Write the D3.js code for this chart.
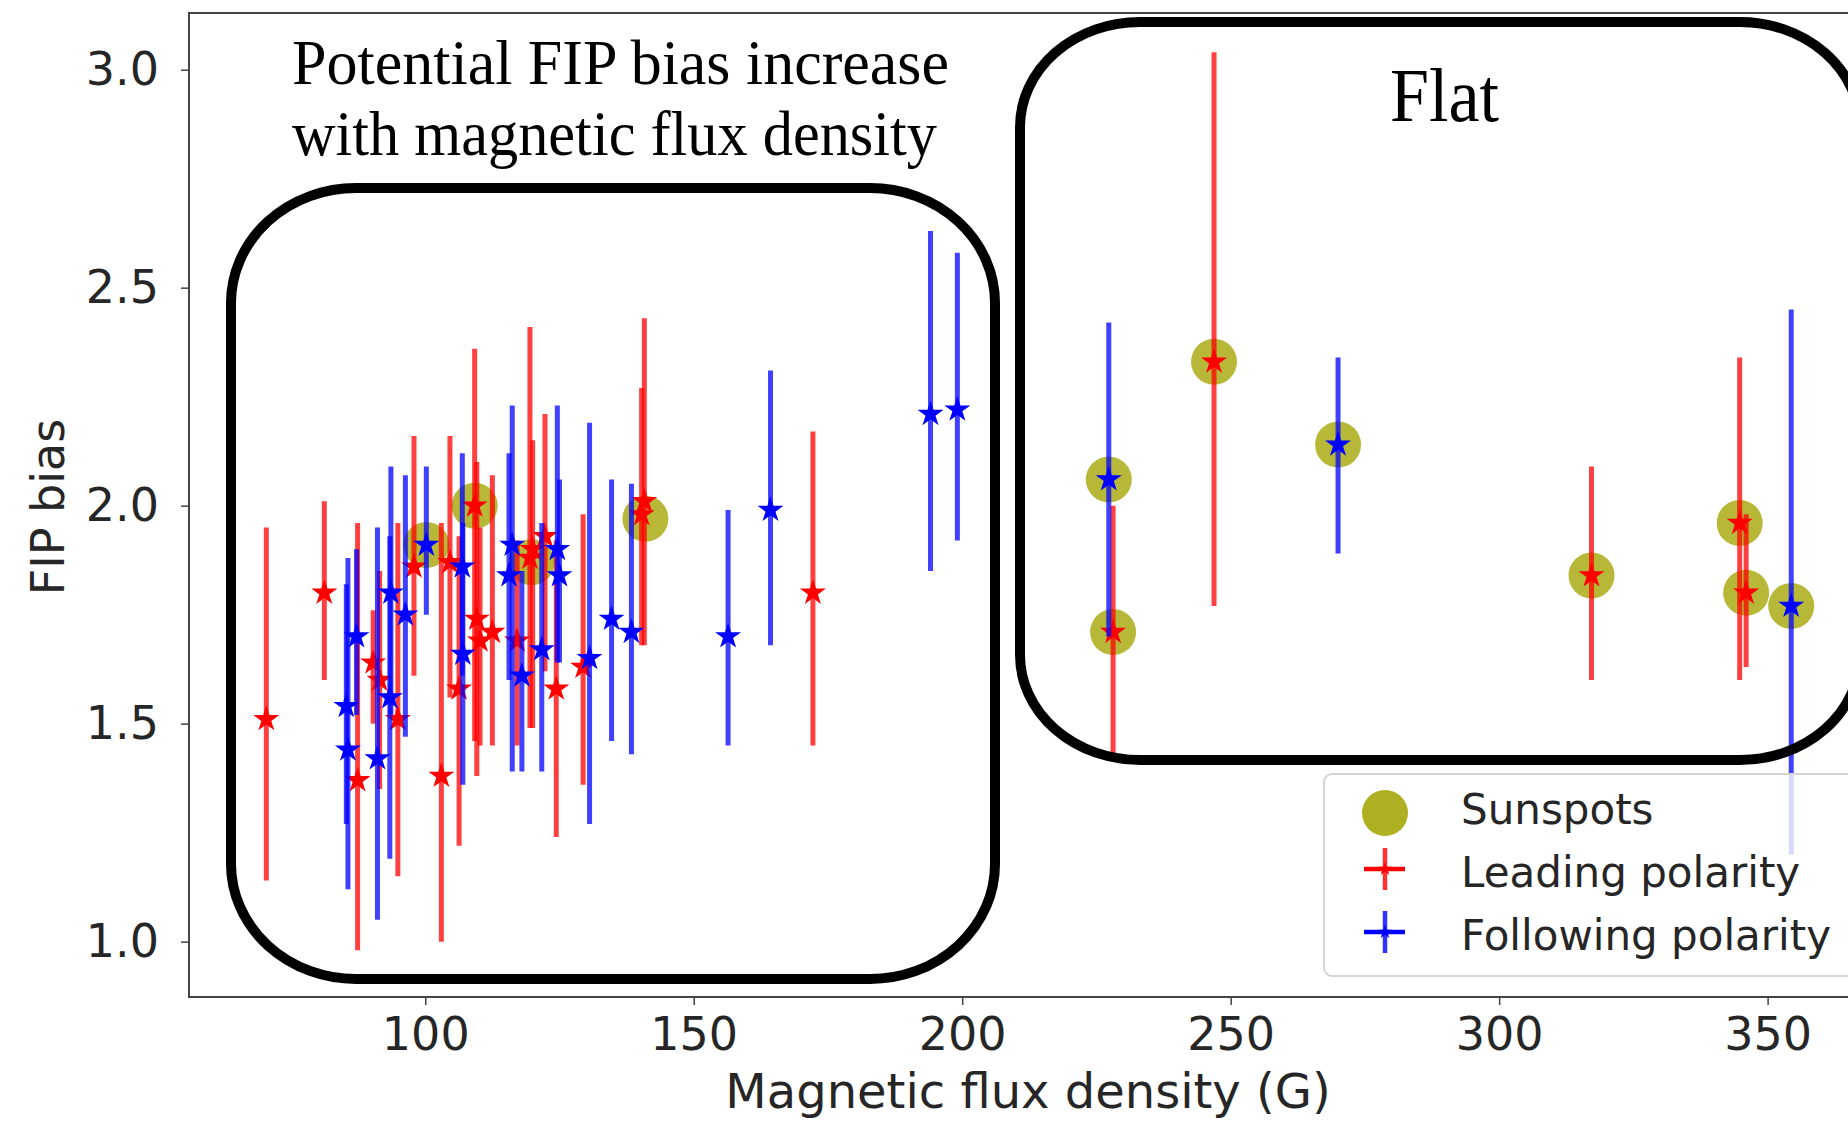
<!DOCTYPE html>
<html>
<head>
<meta charset="utf-8">
<script src="https://cdn.jsdelivr.net/npm/d3@7"></script>
<style>
  body { margin: 0; background: #fff; }
</style>
</head>
<body>
<div class="chart"></div>
<script>
// Leading polarity (red): flux density, FIP bias, lower / upper end of error bar
const leadX    = [70.4, 81.2, 87.4, 90.3, 91.5, 94.9, 97.9, 103.0, 104.6, 106.3, 109.2, 109.6, 110.2, 112.5, 117.1, 119.5, 120.0, 122.3, 124.4, 129.4, 140.3, 140.8, 172.2, 228.1, 246.9, 317.2, 344.8, 346.0];
const leadY    = [1.51, 1.80, 1.37, 1.64, 1.60, 1.51, 1.86, 1.38, 1.87, 1.58, 2.00, 1.74, 1.69, 1.71, 1.69, 1.88, 1.90, 1.93, 1.58, 1.63, 1.98, 2.01, 1.80, 1.71, 2.33, 1.84, 1.96, 1.80];
const leadLow  = [1.14, 1.60, 0.98, 1.50, 1.35, 1.15, 1.61, 1.00, 1.56, 1.22, 1.46, 1.38, 1.45, 1.45, 1.45, 1.49, 1.49, 1.62, 1.24, 1.36, 1.68, 1.68, 1.45, 1.43, 1.77, 1.60, 1.60, 1.63];
const leadHigh = [1.95, 2.01, 1.96, 1.76, 1.85, 1.96, 2.16, 1.96, 2.16, 1.93, 2.36, 2.10, 1.95, 2.07, 1.92, 2.41, 2.15, 2.21, 1.92, 1.98, 2.27, 2.43, 2.17, 2.00, 3.04, 2.09, 2.34, 1.98];

// Following polarity (blue)
const follX    = [85.3, 85.6, 87.2, 91.1, 93.4, 93.6, 96.3, 100.2, 106.9, 107.0, 115.6, 116.2, 118.0, 121.7, 124.6, 125.0, 130.6, 134.7, 138.4, 156.4, 164.3, 194.1, 199.1, 227.3, 270.0, 354.4];
const follY    = [1.54, 1.44, 1.70, 1.42, 1.56, 1.80, 1.75, 1.91, 1.86, 1.66, 1.84, 1.91, 1.61, 1.67, 1.90, 1.84, 1.65, 1.74, 1.71, 1.70, 1.99, 2.21, 2.22, 2.06, 2.14, 1.77];
const follLow  = [1.27, 1.12, 1.52, 1.05, 1.19, 1.52, 1.47, 1.75, 1.61, 1.36, 1.60, 1.39, 1.39, 1.39, 1.64, 1.64, 1.27, 1.46, 1.43, 1.45, 1.68, 1.85, 1.92, 1.70, 1.89, 1.20];
const follHigh = [1.82, 1.88, 1.90, 1.95, 1.93, 2.09, 2.07, 2.09, 2.12, 1.96, 2.12, 2.23, 1.85, 1.96, 2.23, 2.06, 2.19, 2.06, 2.05, 1.99, 2.31, 2.63, 2.58, 2.42, 2.34, 2.45];

// Sunspots
const spotX = [100.2, 109.2, 119.8, 141.0, 227.3, 228.1, 246.9, 270.0, 317.2, 344.8, 346.0, 354.4];
const spotY = [1.91, 2.00, 1.87, 1.97, 2.06, 1.71, 2.33, 2.14, 1.84, 1.96, 1.80, 1.77];

const xTicks = [100, 150, 200, 250, 300, 350];
const yTicks = [1.0, 1.5, 2.0, 2.5, 3.0];
const legendLabels = ["Sunspots", "Leading polarity", "Following polarity"];

const width = 1848, height = 1128;
const plot = {left: 189, right: 1875, top: 13, bottom: 997};
const sans = "DejaVu Sans, sans-serif";
const serif = "Liberation Serif, DejaVu Serif, serif";

const svg = d3.select(".chart").append("svg")
    .attr("width", width)
    .attr("height", height);

svg.append("rect").attr("width", width).attr("height", height).attr("fill", "#fff");

const x = d3.scaleLinear().domain([56, 370]).range([plot.left, plot.right]);
const y = d3.scaleLinear().domain([0.873, 3.13]).range([plot.bottom, plot.top]);

const red = "#ff0000", blue = "#0000ff", olive = "#afaf22";

// spines
svg.append("path")
    .attr("d", `M${plot.right},${plot.top}H${plot.left}V${plot.bottom}H${plot.right}`)
    .attr("fill", "none")
    .attr("stroke", "#444")
    .attr("stroke-width", 2);

const xAxis = svg.append("g")
    .attr("transform", `translate(0,${plot.bottom})`)
    .call(d3.axisBottom(x).tickValues(xTicks).tickSize(8).tickPadding(12).tickFormat(d3.format("d")));
const yAxis = svg.append("g")
    .attr("transform", `translate(${plot.left},0)`)
    .call(d3.axisLeft(y).tickValues(yTicks).tickSize(8).tickPadding(22).tickFormat(d3.format(".1f")));

[xAxis, yAxis].forEach(ax => {
    ax.select(".domain").remove();
    ax.selectAll("line").attr("stroke", "#444").attr("stroke-width", 1.5);
    ax.selectAll("text")
        .style("font-family", sans)
        .style("font-size", "46px")
        .attr("fill", "#262626");
});

svg.append("text")
    .attr("x", 1028).attr("y", 1108)
    .attr("text-anchor", "middle")
    .style("font-family", sans).style("font-size", "48px")
    .attr("fill", "#262626")
    .text("Magnetic flux density (G)");

svg.append("text")
    .attr("transform", "translate(64,507) rotate(-90)")
    .attr("text-anchor", "middle")
    .style("font-family", sans).style("font-size", "46px")
    .attr("fill", "#262626")
    .text("FIP bias");

// sunspot circles
svg.append("g")
    .selectAll("circle")
    .data(d3.range(spotX.length))
    .join("circle")
    .attr("cx", i => x(spotX[i]))
    .attr("cy", i => y(spotY[i]))
    .attr("r", 23)
    .attr("fill", olive)
    .attr("opacity", 0.9);

function series(xs, ys, lo, hi, color) {
    const idx = d3.range(xs.length);
    const g = svg.append("g");
    g.selectAll("line")
        .data(idx)
        .join("line")
        .attr("x1", i => x(xs[i])).attr("x2", i => x(xs[i]))
        .attr("y1", i => y(lo[i])).attr("y2", i => y(hi[i]))
        .attr("stroke", color)
        .attr("stroke-opacity", 0.75)
        .attr("stroke-width", 5);
    g.selectAll("path")
        .data(idx)
        .join("path")
        .attr("transform", i => `translate(${x(xs[i])},${y(ys[i])})`)
        .attr("d", d3.symbol(d3.symbolStar, 210))
        .attr("fill", color);
}
series(leadX, leadY, leadLow, leadHigh, red);
series(follX, follY, follLow, follHigh, blue);

// rounded annotation boxes
svg.append("rect")
    .attr("x", 231).attr("y", 188).attr("width", 764).attr("height", 791)
    .attr("rx", 125).attr("ry", 115)
    .attr("fill", "none").attr("stroke", "#000").attr("stroke-width", 10);
svg.append("rect")
    .attr("x", 1020).attr("y", 22).attr("width", 840).attr("height", 738)
    .attr("rx", 120).attr("ry", 105)
    .attr("fill", "none").attr("stroke", "#000").attr("stroke-width", 10);

svg.append("text")
    .attr("x", 292).attr("y", 84)
    .style("font-family", serif).style("font-size", "64px")
    .attr("textLength", 657).attr("lengthAdjust", "spacingAndGlyphs")
    .text("Potential FIP bias increase");
svg.append("text")
    .attr("x", 292).attr("y", 155)
    .style("font-family", serif).style("font-size", "64px")
    .attr("textLength", 645).attr("lengthAdjust", "spacingAndGlyphs")
    .text("with magnetic flux density");
svg.append("text")
    .attr("x", 1390).attr("y", 121)
    .style("font-family", serif).style("font-size", "76px")
    .attr("textLength", 109).attr("lengthAdjust", "spacingAndGlyphs")
    .text("Flat");

// legend
const legend = svg.append("g").attr("transform", "translate(1324,774)");
legend.append("rect")
    .attr("width", 560).attr("height", 202).attr("rx", 8)
    .attr("fill", "#fff").attr("fill-opacity", 0.8)
    .attr("stroke", "#d5d5d5").attr("stroke-width", 2);
legend.append("circle").attr("cx", 61).attr("cy", 39).attr("r", 23).attr("fill", olive);
[[red, 95], [blue, 158]].forEach(([c, cy]) => {
    legend.append("line").attr("x1", 61).attr("x2", 61).attr("y1", cy - 21).attr("y2", cy + 21)
        .attr("stroke", c).attr("stroke-opacity", 0.8).attr("stroke-width", 4.5);
    legend.append("line").attr("x1", 40).attr("x2", 81).attr("y1", cy).attr("y2", cy)
        .attr("stroke", c).attr("stroke-width", 4.5);
    legend.append("path").attr("transform", `translate(61,${cy})`)
        .attr("d", d3.symbol(d3.symbolStar, 60)).attr("fill", c);
});
legend.selectAll("text.lab")
    .data(legendLabels)
    .join("text")
    .attr("class", "lab")
    .attr("x", 137)
    .attr("y", (d, i) => 50 + i * 63)
    .style("font-family", sans).style("font-size", "42px")
    .attr("fill", "#262626")
    .text(d => d);
</script>
</body>
</html>
